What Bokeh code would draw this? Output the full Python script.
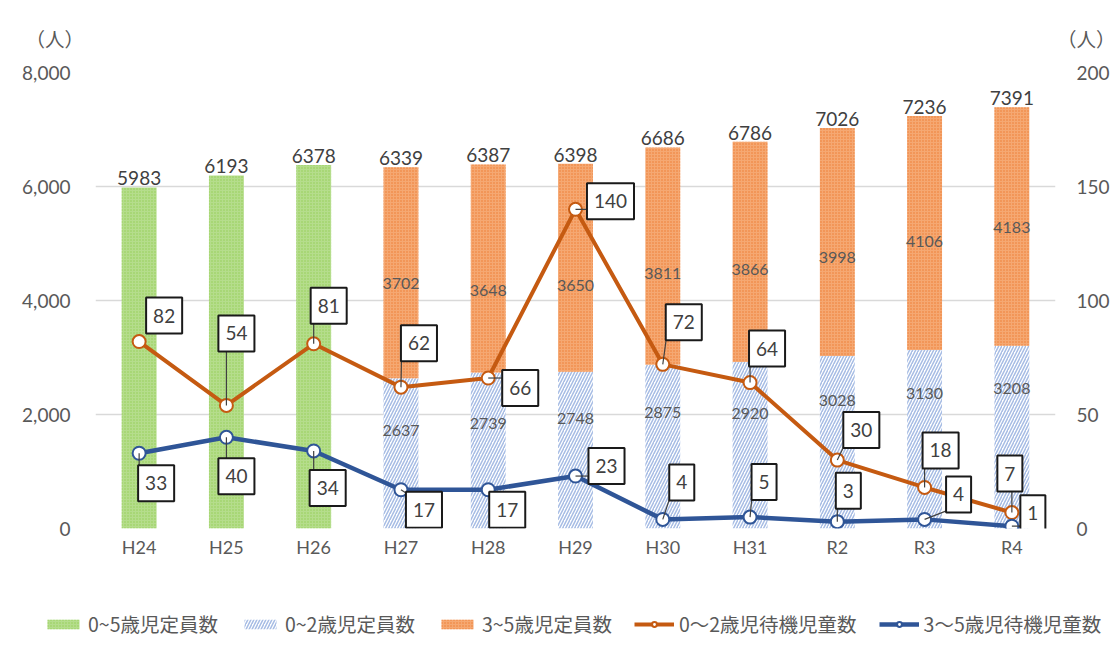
from bokeh.plotting import figure
from bokeh.layouts import column
from bokeh.models import (Range1d, LinearAxis, FixedTicker, NumeralTickFormatter,
                          Label, Legend, LegendItem, ColumnDataSource)
from bokeh.core.properties import value
from bokeh.embed import file_html
from bokeh.resources import INLINE

# ---------------- data ----------------
categories = ["H24", "H25", "H26", "H27", "H28", "H29", "H30", "H31", "R2", "R3", "R4"]
cats_0_5 = ["H24", "H25", "H26"]
cap_0_5 = [5983, 6193, 6378]                      # 0~5歳児定員数
cats_split = ["H27", "H28", "H29", "H30", "H31", "R2", "R3", "R4"]
cap_0_2 = [2637, 2739, 2748, 2875, 2920, 3028, 3130, 3208]   # 0~2歳児定員数
cap_3_5 = [3702, 3648, 3650, 3811, 3866, 3998, 4106, 4183]   # 3~5歳児定員数
wait_0_2 = [82, 54, 81, 62, 66, 140, 72, 64, 30, 18, 7]      # 0～2歳児待機児童数
wait_3_5 = [33, 40, 34, 17, 17, 23, 4, 5, 3, 4, 1]           # 3～5歳児待機児童数
left_ticks = [0, 2000, 4000, 6000, 8000]
right_ticks = [0, 50, 100, 150, 200]
unit_label = "（人）"
legend_labels = ["0~5歳児定員数", "0~2歳児定員数", "3~5歳児定員数",
                 "0～2歳児待機児童数", "3～5歳児待機児童数"]

# ---------------- styles ----------------
W, HD_H, H, LEG_H = 1117, 58, 532, 79
BL, BR, BT, BB = 95, 62, 14, 62
FRAME_W, FRAME_H = W - BL - BR, H - BT - BB
X_PPU = FRAME_W / 11.0
YL_PPU = FRAME_H / 8000.0
YR_PPU = FRAME_H / 200.0
NUM_FONT = "Lato"
JP_FONT = "Noto Sans CJK JP"
TXT = "#404040"
AX = "#595959"
C_OR = "#C55A11"
C_BL = "#2F5597"

GREEN = dict(fill_color="#B5DD8C", line_color=None, hatch_pattern="dot",
             hatch_color="#92CC55", hatch_scale=3, hatch_weight=1)
BLUE = dict(fill_color="white", line_color=None, hatch_pattern="/",
            hatch_color="#A6BCE4", hatch_scale=6, hatch_weight=1.5)
ORANGE = dict(fill_color="#F5A872", line_color=None, hatch_pattern="dot",
              hatch_color="#EC7A30", hatch_scale=3, hatch_weight=1)
MARK = dict(size=13, fill_color="white", line_width=2)

orange_box_off = [(25, -26), (10, -72), (15, -38), (18, -44), (32, 10), (35, -8),
                  (21, -42), (17, -34), (24, -30), (16, -37), (-2, -39)]
blue_box_off = [(17, 30), (10, 39), (14, 37), (23, 20), (19, 20), (31, -10),
                (19, -37), (14, -35), (11, -31), (34, -25), (21, -13)]
orange_leader = [False, True, True, True, True, True, True, True, True, True, True]
blue_leader = [True, True, True, True, False, True, True, True, True, True, True]
inner02_off = [-23, -27, -32, -34, -32, -42, -46, -49]
inner35_off = [11, 22, 18, 17.5, 17.6, 15.5, 8.4, 1]

xi = {c: i for i, c in enumerate(categories)}


def strip(height, xr, yr):
    f = figure(width=W, height=height, x_range=xr, y_range=yr,
               output_backend="svg", toolbar_location=None,
               x_axis_location=None, y_axis_location=None, min_border=0)
    f.outline_line_color = None
    f.grid.visible = False
    return f


# ---------------- header strip with unit labels ----------------
hd = strip(HD_H, Range1d(0, 1), Range1d(0, 1))
hd.add_layout(Label(x=25, y=HD_H - 38, x_units="screen", y_units="screen", text=unit_label,
                    text_align="left", text_baseline="middle", text_font=JP_FONT,
                    text_font_size="19.5px", text_color=AX))
hd.add_layout(Label(x=W - 2, y=HD_H - 38, x_units="screen", y_units="screen", text=unit_label,
                    text_align="right", text_baseline="middle", text_font=JP_FONT,
                    text_font_size="19.5px", text_color=AX))

# ---------------- main chart ----------------
p = figure(width=W, height=H,
           x_range=Range1d(-0.5, 10.5), y_range=Range1d(0, 8000),
           output_backend="svg", toolbar_location=None,
           min_border_left=BL, min_border_right=BR, min_border_top=BT, min_border_bottom=BB)
p.outline_line_color = None
p.extra_y_ranges = {"right": Range1d(0, 200)}

p.xaxis.ticker = FixedTicker(ticks=list(range(len(categories))))
p.xaxis.major_label_overrides = {i: c for i, c in enumerate(categories)}
p.yaxis.ticker = FixedTicker(ticks=left_ticks)
p.yaxis.formatter = NumeralTickFormatter(format="0,0")
raxis = LinearAxis(y_range_name="right", ticker=FixedTicker(ticks=right_ticks))
p.add_layout(raxis, "right")
for ax in [p.xaxis[0], p.yaxis[0], raxis]:
    ax.axis_line_color = None
    ax.major_tick_line_color = None
    ax.minor_tick_line_color = None
    ax.major_tick_out = 0
    ax.minor_tick_out = 0
    ax.major_label_text_font = NUM_FONT
    ax.major_label_text_font_size = "19px"
    ax.major_label_text_color = AX
p.xaxis.major_label_text_font_size = "18px"
p.xaxis.major_label_standoff = 7
p.yaxis.major_label_standoff = 25
raxis.major_label_standoff = 21
p.xgrid.grid_line_color = None
p.ygrid.ticker = FixedTicker(ticks=left_ticks)
p.ygrid.grid_line_color = "#d9d9d9"
p.ygrid.grid_line_width = 1.5

# bars
src_g = ColumnDataSource(dict(x=[xi[c] for c in cats_0_5], top=cap_0_5))
p.vbar(x="x", top="top", bottom=0, width=0.4, source=src_g, **GREEN)
src_s = ColumnDataSource(dict(x=[xi[c] for c in cats_split], b02=cap_0_2,
                              t35=[a + b for a, b in zip(cap_0_2, cap_3_5)]))
p.vbar(x="x", top="b02", bottom=0, width=0.4, source=src_s, **BLUE)
p.vbar(x="x", top="t35", bottom="b02", width=0.4, source=src_s, **ORANGE)

# total labels
tot_x = [xi[c] for c in cats_0_5] + [xi[c] for c in cats_split]
tot_v = cap_0_5 + [a + b for a, b in zip(cap_0_2, cap_3_5)]
p.text(x=tot_x, y=[v + 2 / YL_PPU for v in tot_v], text=[str(v) for v in tot_v],
       text_align="center", text_baseline="bottom", text_font=value(NUM_FONT),
       text_font_size="19px", text_color=TXT)

# inner labels
in_x, in_y, in_t = [], [], []
for c, a, b, o1, o2 in zip(cats_split, cap_0_2, cap_3_5, inner02_off, inner35_off):
    in_x += [xi[c], xi[c]]
    in_y += [a / 2 - o1 / YL_PPU, a + b / 2 - o2 / YL_PPU]
    in_t += [str(a), str(b)]
p.text(x=in_x, y=in_y, text=in_t, text_align="center", text_baseline="middle",
       text_font=value(NUM_FONT), text_font_size="16px", text_color=AX)

# lines
xs = list(range(len(categories)))
p.line(xs, wait_0_2, y_range_name="right", line_color=C_OR, line_width=4)
p.line(xs, wait_3_5, y_range_name="right", line_color=C_BL, line_width=4.5)


# leader lines + boxed labels
def add_boxes(vals, offs, leaders):
    sx0, sy0, sx1, sy1 = [], [], [], []
    for i, (v, (dx, dy), lead) in enumerate(zip(vals, offs, leaders)):
        hw = (len(str(v)) * 10.5 + 14) / 2.0
        hh = 16.5
        if lead:
            nx = min(max(0, dx - hw), dx + hw)
            ny = min(max(0, dy - hh), dy + hh)
            sx0.append(i); sy0.append(v)
            sx1.append(i + nx / X_PPU); sy1.append(v - ny / YR_PPU)
        p.add_layout(Label(x=i + dx / X_PPU, y=v - dy / YR_PPU, y_range_name="right",
                           text=str(v), text_align="center", text_baseline="middle",
                           text_font=NUM_FONT, text_font_size="19px", text_color=TXT,
                           background_fill_color="white", border_line_color="#1a1a1a",
                           border_line_width=2, padding=(7, 11)))
    p.segment(x0=sx0, y0=sy0, x1=sx1, y1=sy1, y_range_name="right",
              line_color="#404040", line_width=1.2)


p.scatter(xs, wait_0_2, y_range_name="right", line_color=C_OR, **MARK)
p.scatter(xs, wait_3_5, y_range_name="right", line_color=C_BL, **MARK)
add_boxes(wait_0_2, orange_box_off, orange_leader)
add_boxes(wait_3_5, blue_box_off, blue_leader)

# ---------------- legend strip (series drawn outside its view) ----------------
lg = strip(LEG_H, Range1d(-40, -30), Range1d(-2, -1))
g1 = lg.vbar(x="x", top="top", bottom=0, width=0.4, source=src_g, **GREEN)
g2 = lg.vbar(x="x", top="b02", bottom=0, width=0.4, source=src_s, **BLUE)
g3 = lg.vbar(x="x", top="t35", bottom="b02", width=0.4, source=src_s, **ORANGE)
l4 = lg.line(xs, wait_0_2, line_color=C_OR, line_width=4)
m4 = lg.scatter(xs, wait_0_2, line_color=C_OR, **MARK)
l5 = lg.line(xs, wait_3_5, line_color=C_BL, line_width=4.5)
m5 = lg.scatter(xs, wait_3_5, line_color=C_BL, **MARK)
legend = Legend(items=[
    LegendItem(label=legend_labels[0], renderers=[g1]),
    LegendItem(label=legend_labels[1], renderers=[g2]),
    LegendItem(label=legend_labels[2], renderers=[g3]),
    LegendItem(label=legend_labels[3], renderers=[l4, m4]),
    LegendItem(label=legend_labels[4], renderers=[l5, m5]),
], orientation="horizontal", location=(43, 31))
legend.label_text_font = JP_FONT
legend.label_text_font_size = "19.5px"
legend.label_text_color = AX
legend.glyph_width = 40
legend.glyph_height = 12
legend.label_standoff = 5
legend.spacing = 22
legend.padding = 0
legend.margin = 0
legend.border_line_color = None
legend.background_fill_alpha = 0
lg.add_layout(legend, "center")

for fig in (hd, p, lg):
    if "frame_align" in fig.properties():
        fig.frame_align = False

layout = column(hd, p, lg, spacing=0)
open("out.html", "w").write(file_html(layout, INLINE))
